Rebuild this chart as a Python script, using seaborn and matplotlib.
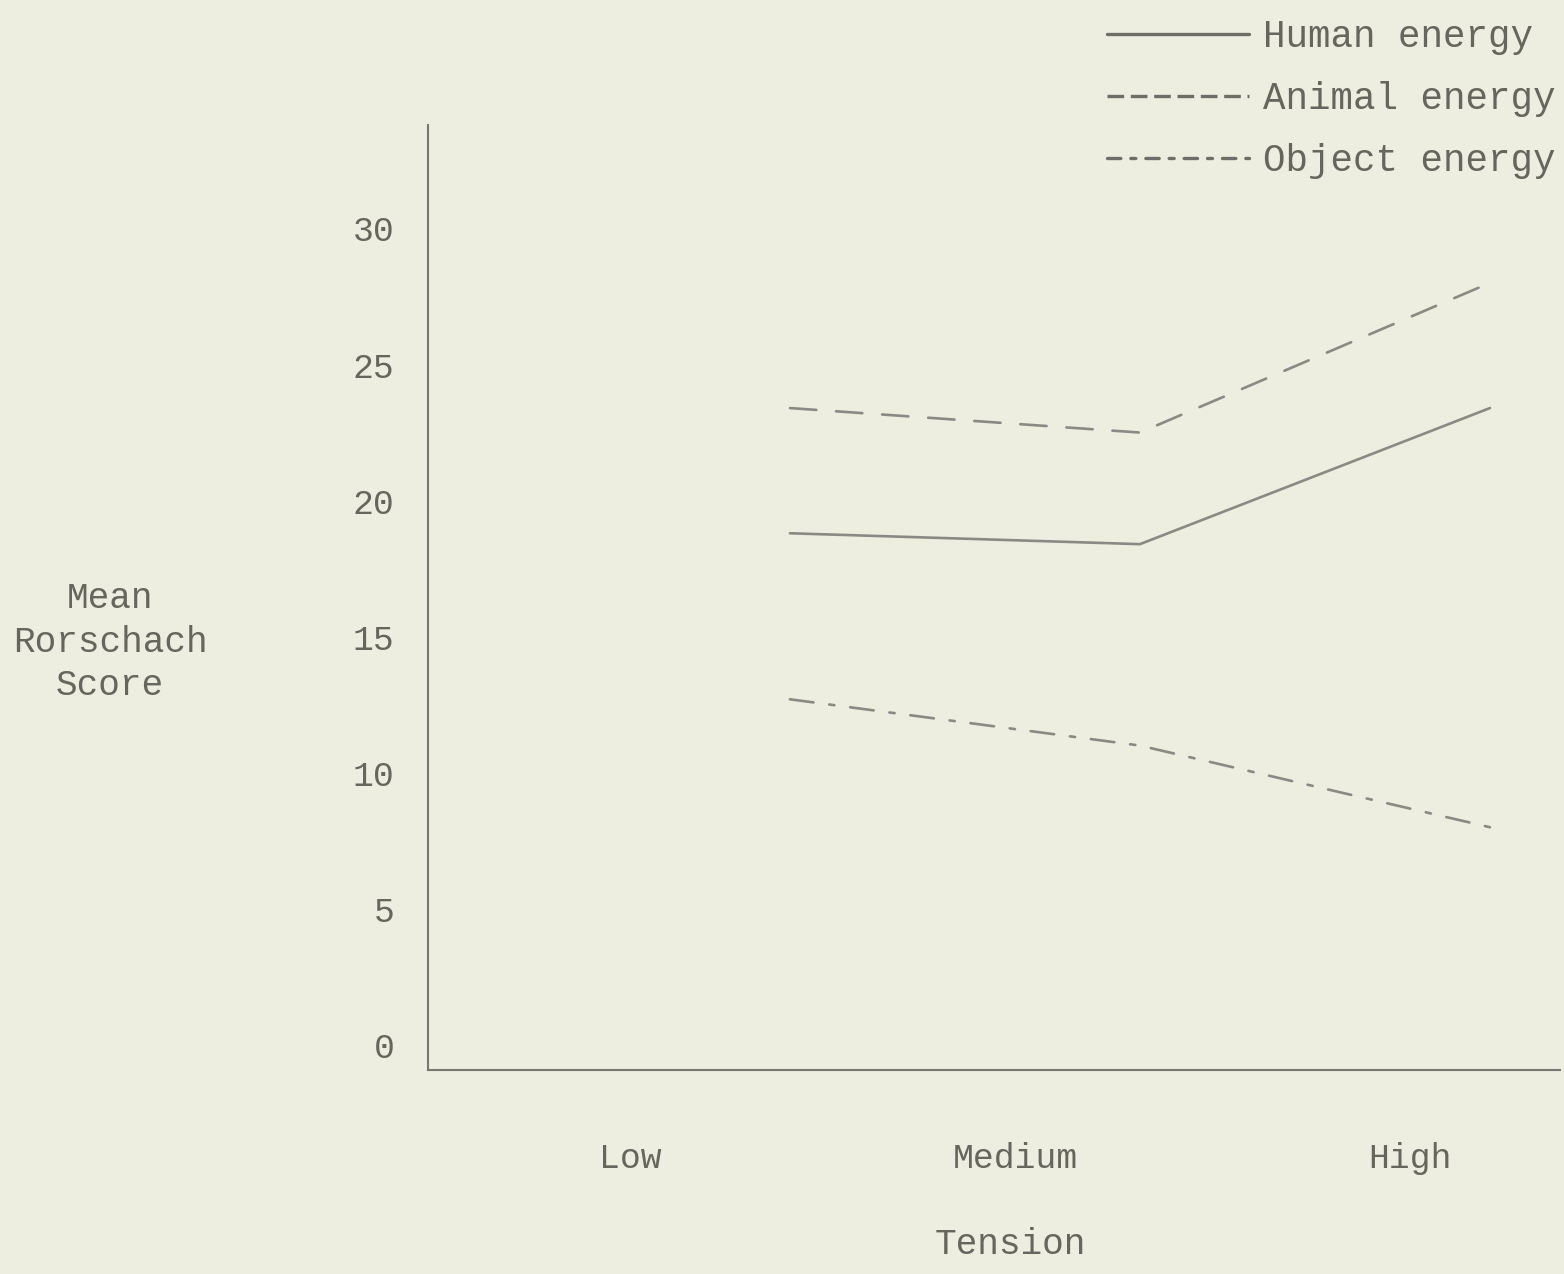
import matplotlib
matplotlib.use("Agg")
import matplotlib.pyplot as plt
from matplotlib.lines import Line2D
import seaborn as sns
import pandas as pd

# ---- data ----
tension_levels = [0, 1, 2]
human_energy = [18.8, 18.4, 23.4]
animal_energy = [23.4, 22.5, 28.0]
object_energy = [12.7, 11.0, 8.0]
series_names = ["Human energy", "Animal energy", "Object energy"]
x_tick_labels = ["Low", "Medium", "High"]
y_ticks = [0, 5, 10, 15, 20, 25, 30]

# ---- layout ----
x_tick_positions = [-0.457, 0.643, 1.771]
BG = "#EDEEE0"
INK = "#66665E"
LINE = "#8A8A85"

df = pd.DataFrame({
    "x": tension_levels * 3,
    "y": human_energy + animal_energy + object_energy,
    "series": [series_names[0]] * 3 + [series_names[1]] * 3 + [series_names[2]] * 3,
})

sns.set_theme(style="white")
plt.rcParams["font.family"] = ["Liberation Mono", "DejaVu Sans Mono"]

fig = plt.figure(figsize=(15.64, 12.74), dpi=100)
fig.patch.set_facecolor(BG)
ax = fig.add_axes([0.2737, 0.1601, 0.9974 - 0.2737, 0.9019 - 0.1601])
ax.set_facecolor(BG)

dashes = {
    series_names[0]: "",
    series_names[1]: (10, 7.5),
    series_names[2]: (9, 6, 2, 6),
}
sns.lineplot(data=df, x="x", y="y", style="series", dashes=dashes,
             color=LINE, linewidth=1.9, ax=ax, legend=False)
for ln in ax.get_lines():
    ln.set_dash_capstyle("round")

ax.set_xlim(-1.034, 2.2)
ax.set_ylim(-0.92, 33.8)
ax.set_xticks(x_tick_positions)
ax.set_xticklabels(x_tick_labels)
ax.set_yticks(y_ticks)
ax.set_yticklabels([str(v) for v in y_ticks])
ax.tick_params(axis="both", length=0, colors=INK, labelsize=25)
ax.tick_params(axis="y", pad=24)
ax.tick_params(axis="x", pad=52)
ax.set_xlabel("")
ax.set_ylabel("")
for s in ["top", "right"]:
    ax.spines[s].set_visible(False)
for s in ["left", "bottom"]:
    ax.spines[s].set_color("#777772")
    ax.spines[s].set_linewidth(1.5)

# typed-style legend keys
leg_color = "#6E6E68"
handles = [
    Line2D([], [], color=leg_color, linewidth=2.4, linestyle="-"),
    Line2D([], [], color=leg_color, linewidth=2.4, linestyle=(0, (5, 2))),
    Line2D([], [], color=leg_color, linewidth=2.4, linestyle=(0, (4, 3, 1.5, 3)),
           dash_capstyle="round"),
]
fig.legend(handles, series_names, loc="upper right",
           bbox_to_anchor=(1.0 + 10 / 1564, 1.0),
           frameon=False, fontsize=27, labelcolor=INK, handlelength=3.8,
           handletextpad=0.36, labelspacing=0.7, borderpad=0.3,
           borderaxespad=0.2)

fig.text(110 / 1564, 1 - 642 / 1274, "Mean\nRorschach\nScore", ha="center",
         va="center", fontsize=26, color=INK, linespacing=1.32)
fig.text(1010 / 1564, 1 - 1245 / 1274, "Tension", ha="center", va="center",
         fontsize=26, color=INK)

fig.savefig("out.png", dpi=100, facecolor=BG)
